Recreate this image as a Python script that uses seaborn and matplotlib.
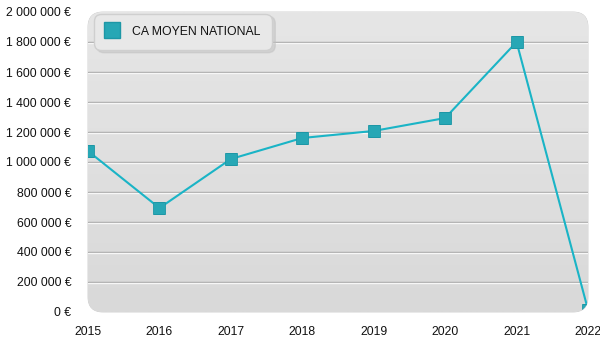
import numpy as np
import pandas as pd
import matplotlib
matplotlib.use("Agg")
import matplotlib.pyplot as plt
import seaborn as sns
from matplotlib.patches import FancyBboxPatch
from matplotlib.ticker import FuncFormatter

# Average national turnover per year (euros)
years = [2015, 2016, 2017, 2018, 2019, 2020, 2021, 2022]
ca_moyen = [1073000, 693000, 1020000, 1160000, 1207000, 1293000, 1800000, 15000]
series_label = "CA MOYEN NATIONAL"

df = pd.DataFrame({"annee": years, "ca": ca_moyen})

sns.set_theme(style="white")
plt.rcParams["font.family"] = ["Liberation Sans", "DejaVu Sans"]

fig = plt.figure(figsize=(6, 3.5), dpi=100)
ax = fig.add_axes([88 / 600, 1 - 312 / 350, 500 / 600, 300 / 350])
ax.set_facecolor("none")
ax.set_xlim(2015, 2022)
ax.set_ylim(0, 2000000)

# Rounded, softly graded plot background
bg = FancyBboxPatch((0, 0), 1, 1, boxstyle="round,pad=0,rounding_size=0.03",
                    transform=ax.transAxes, facecolor="none", edgecolor="#cccccc",
                    linewidth=0.6, mutation_aspect=500 / 300, zorder=0, clip_on=False)
ax.add_patch(bg)
grad = np.linspace(0, 1, 256).reshape(-1, 1)
img = ax.imshow(grad, extent=(2015, 2022, 0, 2000000), aspect="auto",
                cmap=matplotlib.colors.LinearSegmentedColormap.from_list(
                    "bg", ["#d9d9d9", "#e6e6e6"]),
                origin="lower", zorder=0)
img.set_clip_path(bg)

# Embossed horizontal grid lines
for v in range(200000, 2000000, 200000):
    ax.axhline(v, color="#a6a6a6", lw=1.0, zorder=1)
    ax.axhline(v - 6000, color="#f7f7f7", lw=1.0, zorder=1)

sns.lineplot(data=df, x="annee", y="ca", ax=ax, color="#1ab4c6", lw=1.5,
             marker="s", markersize=9, markerfacecolor="#27a7b5",
             markeredgecolor="#1d97a6", markeredgewidth=0.6,
             zorder=3, legend=False)
for ln in ax.lines[-1:]:
    ln.set_clip_path(bg)

ax.set_xticks(years)
ax.set_xticklabels([str(y) for y in years], fontsize=8.8, color="#111111")
ax.set_yticks(range(0, 2000001, 200000))
ax.yaxis.set_major_formatter(FuncFormatter(
    lambda v, p: f"{int(v):,}".replace(",", " ") + " €"))
ax.tick_params(axis="y", labelsize=8.8, labelcolor="#111111", pad=12, length=0)
ax.tick_params(axis="x", pad=10, length=0)
ax.set_xlabel("")
ax.set_ylabel("")
for s in ax.spines.values():
    s.set_visible(False)

# Legend box
handles = [plt.Line2D([], [], ls="none", marker="s", markersize=12,
                      markerfacecolor="#27a7b5", markeredgecolor="#1d97a6")]
leg = ax.legend(handles, [series_label], loc="upper left",
                bbox_to_anchor=(0.012, 0.995), frameon=True, fancybox=True,
                fontsize=8.8, handlelength=1.0, handletextpad=1.1, borderpad=1.0,
                borderaxespad=0, shadow={"color": "#c0c0c0", "alpha": 0.5})
frame = leg.get_frame()
frame.set_facecolor("#e8e8e8")
frame.set_edgecolor("#cfcfcf")
frame.set_alpha(1)
frame.set_boxstyle("round", pad=0, rounding_size=0.6)
for t in leg.get_texts():
    t.set_color("#111111")

fig.savefig("out.png", dpi=100, facecolor="white")
